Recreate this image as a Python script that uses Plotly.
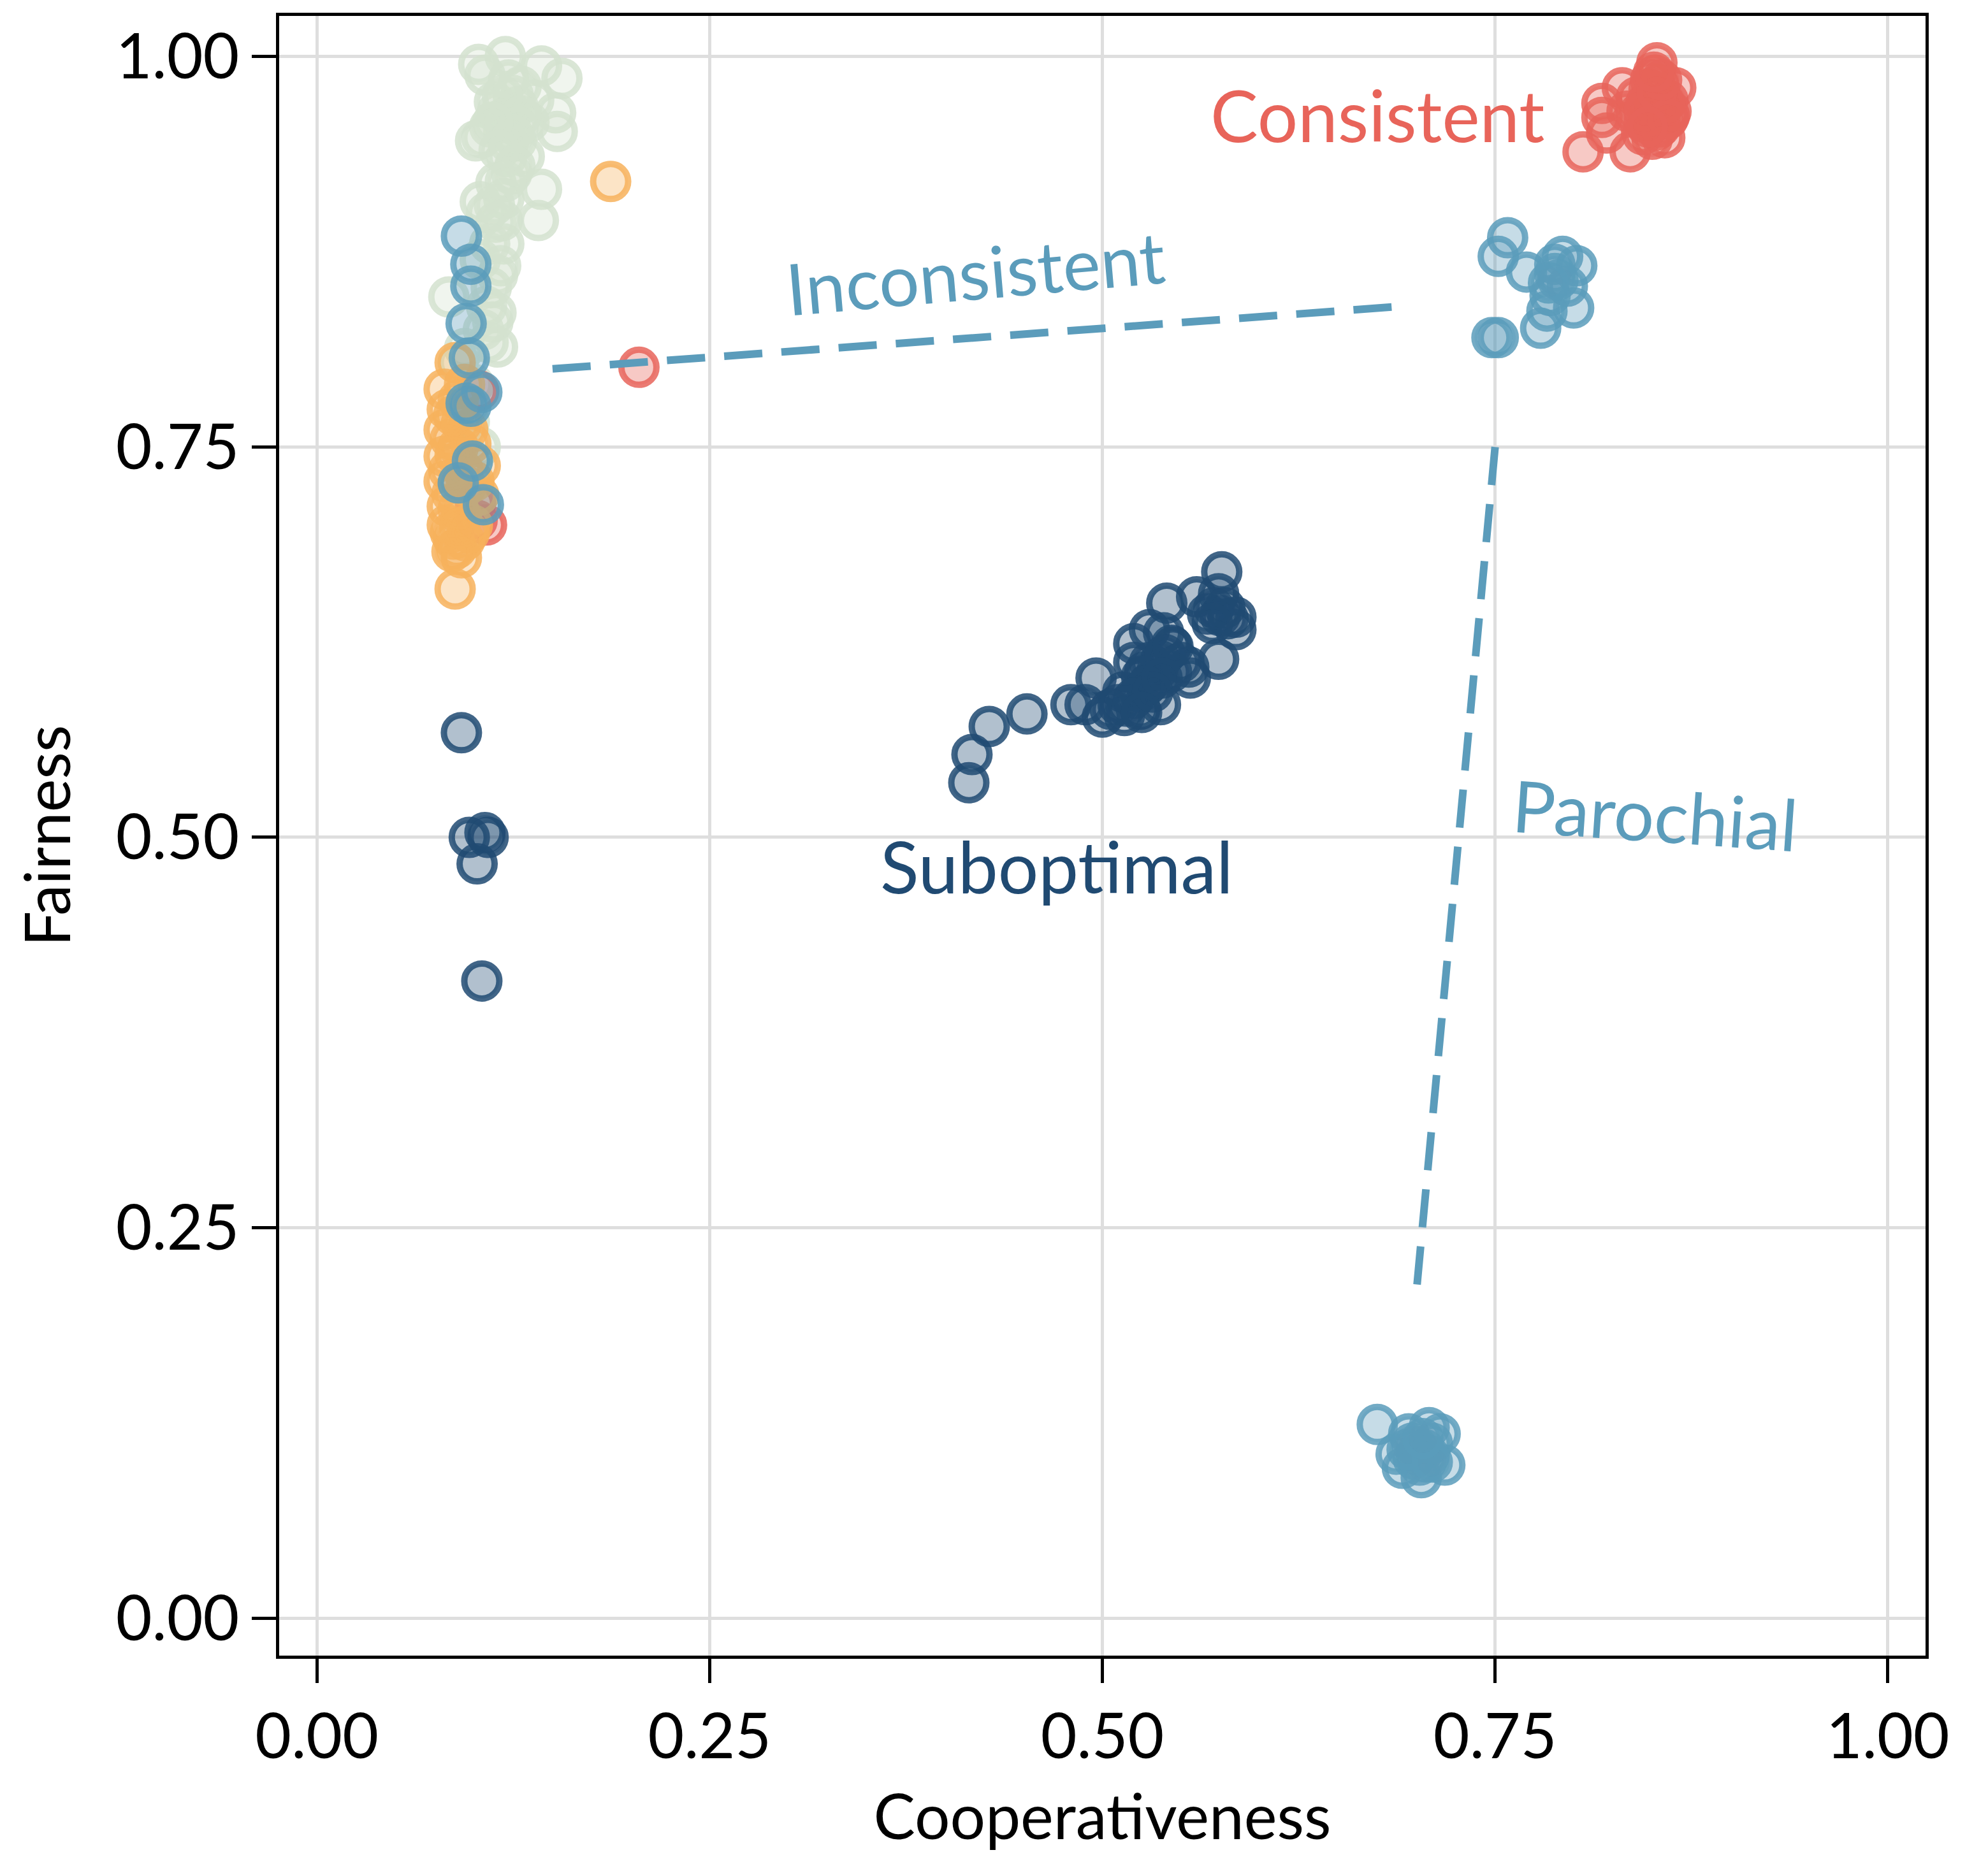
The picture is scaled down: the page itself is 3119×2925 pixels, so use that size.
import plotly.graph_objects as go

# ---------------- data ----------------
green_x = [0.103, 0.120, 0.143, 0.156, 0.107, 0.122, 0.130, 0.152, 0.153, 0.101, 0.105, 0.113,
           0.124, 0.135, 0.119, 0.127, 0.132, 0.121, 0.125, 0.138, 0.128, 0.118, 0.114, 0.143,
           0.141, 0.104, 0.119, 0.114, 0.119, 0.117, 0.084, 0.111, 0.114, 0.109, 0.097, 0.094,
           0.104, 0.115, 0.090, 0.108, 0.124, 0.110, 0.098, 0.104,
           0.115, 0.120, 0.125, 0.130, 0.118, 0.122, 0.128, 0.112, 0.116, 0.126, 0.120, 0.113,
           0.118, 0.110, 0.115, 0.108, 0.112, 0.106, 0.100]
green_y = [0.995, 1.000, 0.994, 0.986, 0.988, 0.985, 0.981, 0.964, 0.952, 0.946, 0.948, 0.971,
           0.964, 0.958, 0.952, 0.946, 0.936, 0.936, 0.975, 0.972, 0.968, 0.960, 0.919, 0.915,
           0.895, 0.907, 0.909, 0.894, 0.880, 0.866, 0.846, 0.852, 0.836, 0.817, 0.766, 0.813,
           0.870, 0.814, 0.804, 0.900, 0.925, 0.955, 0.730, 0.750,
           0.965, 0.958, 0.950, 0.962, 0.975, 0.945, 0.955, 0.958, 0.940, 0.930, 0.920, 0.905,
           0.895, 0.880, 0.860, 0.840, 0.830, 0.825, 0.790]

red_x = [0.108, 0.103, 0.101, 0.102, 0.205,
         0.806, 0.836, 0.821, 0.818, 0.818, 0.831, 0.853, 0.865, 0.861, 0.853, 0.842, 0.848,
         0.852, 0.856, 0.860, 0.840, 0.834, 0.850, 0.858, 0.845, 0.855, 0.849, 0.857, 0.846,
         0.851, 0.862, 0.854, 0.844,
         0.848, 0.852, 0.855, 0.850, 0.858, 0.845, 0.853, 0.860, 0.847, 0.856, 0.851]
red_y = [0.700, 0.786, 0.714, 0.703, 0.801,
         0.939, 0.939, 0.951, 0.961, 0.970, 0.980, 0.996, 0.980, 0.962, 0.953, 0.964, 0.979,
         0.988, 0.967, 0.972, 0.974, 0.965, 0.947, 0.948, 0.958, 0.975, 0.985, 0.958, 0.970,
         0.962, 0.965, 0.982, 0.950,
         0.962, 0.968, 0.955, 0.975, 0.970, 0.965, 0.978, 0.960, 0.955, 0.985, 0.990]

orange_x = [0.088, 0.089, 0.087, 0.083, 0.083, 0.081, 0.081, 0.081, 0.083, 0.081, 0.088, 0.104,
            0.096, 0.099, 0.092, 0.103, 0.090, 0.092, 0.090, 0.095, 0.086, 0.094,
            0.085, 0.090, 0.093, 0.088, 0.085, 0.092, 0.087, 0.094, 0.097, 0.100, 0.086, 0.091,
            0.098, 0.084, 0.187]
orange_y = [0.659, 0.685, 0.691, 0.700, 0.712, 0.728, 0.744, 0.761, 0.774, 0.787, 0.804, 0.738,
            0.761, 0.700, 0.706, 0.719, 0.780, 0.679, 0.750, 0.725, 0.720, 0.690,
            0.695, 0.710, 0.735, 0.745, 0.755, 0.765, 0.770, 0.790, 0.695, 0.728, 0.683, 0.698,
            0.752, 0.735, 0.920]

steel_x = [0.758, 0.752, 0.770, 0.788, 0.793, 0.802, 0.796, 0.800, 0.785, 0.779, 0.752, 0.748,
           0.783, 0.788, 0.790, 0.784,
           0.675, 0.703, 0.695, 0.708, 0.715, 0.718, 0.703, 0.691, 0.687, 0.700, 0.706, 0.710, 0.698,
           0.700, 0.705, 0.697, 0.702, 0.708, 0.694, 0.710, 0.704,
           0.092, 0.098, 0.098, 0.095, 0.097, 0.105, 0.095, 0.098, 0.099, 0.090, 0.106]
steel_y = [0.884, 0.872, 0.862, 0.867, 0.872, 0.866, 0.853, 0.839, 0.847, 0.826, 0.820, 0.820,
           0.837, 0.861, 0.857, 0.855,
           0.124, 0.105, 0.118, 0.122, 0.118, 0.098, 0.090, 0.096, 0.105, 0.110, 0.100, 0.112, 0.102,
           0.105, 0.108, 0.112, 0.098, 0.104, 0.108, 0.100, 0.115,
           0.885, 0.867, 0.853, 0.829, 0.807, 0.785, 0.778, 0.776, 0.741, 0.727, 0.713]

navy_x = [0.092, 0.097, 0.107, 0.109, 0.102, 0.105,
          0.415, 0.417, 0.428, 0.452, 0.496, 0.489, 0.480, 0.500, 0.514, 0.524, 0.537, 0.520,
          0.530, 0.541, 0.560, 0.576, 0.574, 0.585, 0.585, 0.574, 0.556, 0.555, 0.544, 0.537,
          0.527, 0.530, 0.524, 0.544, 0.567, 0.571, 0.580, 0.520, 0.539, 0.513, 0.510,
          0.525, 0.530, 0.535, 0.540, 0.528, 0.520, 0.515, 0.545, 0.550, 0.575, 0.578, 0.570,
          0.532, 0.538, 0.505, 0.525]
navy_y = [0.567, 0.500, 0.503, 0.500, 0.483, 0.408,
          0.535, 0.553, 0.571, 0.579, 0.602, 0.585, 0.585, 0.577, 0.578, 0.582, 0.585, 0.624,
          0.633, 0.650, 0.654, 0.670, 0.656, 0.641, 0.633, 0.614, 0.602, 0.609, 0.623, 0.613,
          0.606, 0.599, 0.593, 0.606, 0.643, 0.647, 0.640, 0.612, 0.631, 0.593, 0.585,
          0.603, 0.612, 0.607, 0.617, 0.597, 0.589, 0.584, 0.622, 0.612, 0.642, 0.647, 0.637,
          0.593, 0.602, 0.582, 0.580]

# dashed guide lines
incons_line_x = [0.15, 0.69]
incons_line_y = [0.80, 0.84]
paro_line_x = [0.75, 0.70]
paro_line_y = [0.75, 0.21]

labels = ["Consistent", "Inconsistent", "Parochial", "Suboptimal"]
label_x = [0.675, 0.419, 0.852, 0.471]
label_y = [0.963, 0.862, 0.515, 0.482]
label_angle = [0, -5, 4, 0]

tick_vals = [0.0, 0.25, 0.5, 0.75, 1.0]
tick_text = ["0.00", "0.25", "0.50", "0.75", "1.00"]

RED = (232, 100, 90)
STEEL = (91, 156, 187)
NAVY = (32, 74, 114)
ORANGE = (247, 178, 92)
GREEN = (212, 226, 207)


def rgba(c, a):
    return f"rgba({c[0]},{c[1]},{c[2]},{a})"


def scatter(x, y, c):
    return go.Scatter(
        x=x, y=y, mode="markers", showlegend=False, hoverinfo="skip",
        marker=dict(size=55, color=rgba(c, 0.35),
                    line=dict(color=rgba(c, 0.85), width=10)),
    )


fig = go.Figure()
fig.add_trace(scatter(green_x, green_y, GREEN))
fig.add_trace(scatter(red_x, red_y, RED))
fig.add_trace(scatter(orange_x, orange_y, ORANGE))
fig.add_trace(scatter(steel_x, steel_y, STEEL))
fig.add_trace(scatter(navy_x, navy_y, NAVY))

for lx, ly in [(incons_line_x, incons_line_y), (paro_line_x, paro_line_y)]:
    fig.add_trace(go.Scatter(x=lx, y=ly, mode="lines", showlegend=False, hoverinfo="skip",
                             line=dict(color=rgba(STEEL, 1), width=12, dash="60px,30px")))

label_colors = [rgba(RED, 1), rgba(STEEL, 1), rgba(STEEL, 1), rgba(NAVY, 1)]
for t, x, y, a, c in zip(labels, label_x, label_y, label_angle, label_colors):
    fig.add_annotation(x=x, y=y, text=t, showarrow=False, textangle=a,
                       font=dict(family="Lato", size=112, color=c))

axis_common = dict(
    tickvals=tick_vals, ticktext=tick_text,
    showline=True, linecolor="black", linewidth=5, mirror=True,
    ticks="outside", ticklen=38, tickwidth=5, tickcolor="black",
    showgrid=True, gridcolor="#dedede", gridwidth=5,
    zeroline=False,
    tickfont=dict(family="Lato", size=98, color="black"),
)

fig.update_layout(
    width=3119, height=2925,
    paper_bgcolor="white", plot_bgcolor="white",
    margin=dict(l=430, r=106, t=12, b=335),
    xaxis=dict(**axis_common, range=[-0.024, 1.024],
               title=dict(text="Cooperativeness", font=dict(family="Lato", size=98, color="black"),
                          standoff=40)),
    yaxis=dict(**axis_common, range=[-0.024, 1.026],
               title=dict(text="Fairness", font=dict(family="Lato", size=98, color="black"),
                          standoff=40)),
)

fig.write_html("out.html")
